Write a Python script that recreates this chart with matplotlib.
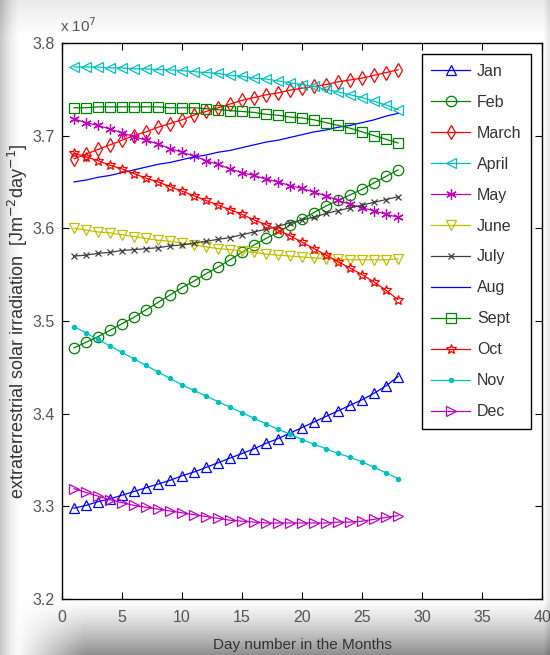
import numpy as np
import matplotlib
matplotlib.use('Agg')
import matplotlib.pyplot as plt

# values, in units of 1e7 J m^-2 day^-1, days 1..28
days = list(range(1, 29))

jan = [3.298, 3.301, 3.305, 3.308, 3.312, 3.316, 3.320, 3.324, 3.328, 3.333,
       3.337, 3.342, 3.347, 3.352, 3.357, 3.362, 3.368, 3.373, 3.379, 3.385,
       3.391, 3.397, 3.403, 3.409, 3.415, 3.422, 3.430, 3.440]
feb = [3.471, 3.477, 3.483, 3.490, 3.497, 3.504, 3.512, 3.520, 3.528, 3.536,
       3.543, 3.551, 3.558, 3.566, 3.574, 3.582, 3.589, 3.596, 3.603, 3.610,
       3.617, 3.624, 3.630, 3.636, 3.642, 3.649, 3.656, 3.663]
march = [3.675, 3.680, 3.685, 3.690, 3.695, 3.700, 3.704, 3.709, 3.713, 3.717,
         3.722, 3.726, 3.730, 3.734, 3.738, 3.741, 3.744, 3.746, 3.749, 3.751,
         3.753, 3.755, 3.758, 3.760, 3.762, 3.765, 3.768, 3.771]
april = [3.774, 3.774, 3.774, 3.773, 3.773, 3.772, 3.772, 3.771, 3.771, 3.770,
         3.769, 3.768, 3.767, 3.765, 3.764, 3.762, 3.761, 3.759, 3.757, 3.755,
         3.753, 3.750, 3.747, 3.744, 3.741, 3.737, 3.733, 3.728]
may = [3.718, 3.714, 3.711, 3.707, 3.703, 3.699, 3.695, 3.691, 3.686, 3.682,
       3.678, 3.673, 3.669, 3.664, 3.660, 3.657, 3.653, 3.650, 3.646, 3.643,
       3.639, 3.635, 3.630, 3.626, 3.622, 3.619, 3.615, 3.612]
june = [3.600, 3.598, 3.596, 3.595, 3.593, 3.591, 3.589, 3.587, 3.586, 3.584,
        3.582, 3.580, 3.578, 3.577, 3.575, 3.574, 3.572, 3.571, 3.570, 3.569,
        3.568, 3.567, 3.567, 3.566, 3.566, 3.566, 3.566, 3.567]
july = [3.570, 3.571, 3.573, 3.574, 3.576, 3.577, 3.578, 3.579, 3.581, 3.582,
        3.584, 3.586, 3.588, 3.590, 3.593, 3.596, 3.599, 3.602, 3.606, 3.609,
        3.612, 3.616, 3.619, 3.622, 3.625, 3.628, 3.631, 3.634]
aug = [3.650, 3.652, 3.655, 3.657, 3.660, 3.663, 3.666, 3.669, 3.671, 3.674,
       3.677, 3.679, 3.682, 3.684, 3.687, 3.690, 3.693, 3.695, 3.698, 3.701,
       3.704, 3.706, 3.709, 3.711, 3.714, 3.717, 3.721, 3.724]
sept = [3.730, 3.730, 3.731, 3.731, 3.731, 3.731, 3.731, 3.731, 3.730, 3.730,
        3.730, 3.729, 3.728, 3.727, 3.726, 3.725, 3.723, 3.722, 3.720, 3.719,
        3.717, 3.714, 3.711, 3.708, 3.704, 3.700, 3.696, 3.692]
oct_ = [3.681, 3.677, 3.673, 3.668, 3.664, 3.659, 3.654, 3.650, 3.645, 3.640,
        3.635, 3.630, 3.625, 3.620, 3.615, 3.609, 3.604, 3.598, 3.592, 3.585,
        3.578, 3.571, 3.564, 3.557, 3.550, 3.542, 3.533, 3.523]
nov = [3.494, 3.487, 3.480, 3.473, 3.466, 3.459, 3.452, 3.445, 3.438, 3.431,
       3.425, 3.419, 3.413, 3.407, 3.401, 3.395, 3.389, 3.383, 3.378, 3.372,
       3.367, 3.362, 3.357, 3.353, 3.348, 3.342, 3.336, 3.330]
dec = [3.319, 3.315, 3.311, 3.307, 3.304, 3.301, 3.299, 3.297, 3.295, 3.293,
       3.291, 3.289, 3.287, 3.285, 3.284, 3.283, 3.282, 3.282, 3.282, 3.282,
       3.282, 3.282, 3.283, 3.283, 3.284, 3.286, 3.288, 3.290]

labels = ['Jan', 'Feb', 'March', 'April', 'May', 'June', 'July', 'Aug',
          'Sept', 'Oct', 'Nov', 'Dec']
series = [jan, feb, march, april, may, june, july, aug, sept, oct_, nov, dec]

# matlab-ish look
blue = (0, 0, 1)
green = (0, 0.5, 0)
red = (1, 0, 0)
cyan = (0, 0.75, 0.75)
mag = (0.75, 0, 0.75)
yel = (0.75, 0.75, 0)
gray = (0.25, 0.25, 0.25)
colors = [blue, green, red, cyan, mag, yel, gray, blue, green, red, cyan, mag]
markers = ['^', 'o', 'd', '<', (6, 2, 0), 'v', 'x', None, 's', '*', '.', '>']

fnt = ['Liberation Sans', 'DejaVu Sans']
txtcol = '#333333'

fig = plt.figure(figsize=(5.5, 6.55), dpi=100)

# soft drop shadow behind the plot
bg = fig.add_axes([0, 0, 1, 1], zorder=-5)
h, w = 655, 550
yy, xx = np.mgrid[0:h, 0:w]
shade = np.zeros((h, w))
shade += 0.45 * np.clip((yy - 598) / 57.0, 0, 1) ** 1.3 * np.clip((xx - 15) / 70.0, 0, 1)
shade += 0.22 * np.clip((20 - xx) / 20.0, 0, 1) ** 1.5
shade += 0.08 * np.clip((35 - yy) / 35.0, 0, 1)
shade += 0.10 * np.clip((xx - 543) / 7.0, 0, 1)
shade = np.clip(shade, 0, 0.6)
img = np.dstack([1 - shade] * 3)
bg.imshow(img, aspect='auto', extent=[0, 1, 0, 1])
bg.axis('off')

ax = fig.add_axes([0.1127, 0.0855, 0.873, 0.849])
for lab, vals, c, m in zip(labels, series, colors, markers):
    kw = dict(color=c, lw=0.9, label=lab)
    if m is not None:
        kw.update(marker=m, ms=7.5, markeredgewidth=0.9)
        if m in ['^', 'o', 'd', '<', 'v', 's', '*', '>']:
            kw['markerfacecolor'] = 'none'
        if m == 'x':
            kw['ms'] = 5
        if m == '.':
            kw['ms'] = 6
    ax.plot(days, vals, **kw)

ax.set_xlim(0, 40)
ax.set_ylim(3.2, 3.8)
ax.set_xticks(range(0, 41, 5))
ax.set_yticks([3.2, 3.3, 3.4, 3.5, 3.6, 3.7, 3.8])
ax.set_yticklabels(['3.2', '3.3', '3.4', '3.5', '3.6', '3.7', '3.8'])
ax.tick_params(direction='in', top=True, right=True, length=5, width=0.8,
               labelsize=11.5, labelcolor='#555555')
ax.tick_params(axis='x', pad=8)
ax.tick_params(axis='y', pad=5)
for t in ax.get_xticklabels() + ax.get_yticklabels():
    t.set_family(fnt)
for s in ax.spines.values():
    s.set_linewidth(1.0)

ax.text(-0.2, 3.8 + 0.009, 'x 10$^{7}$', fontsize=11, color='#555555',
        family=fnt, ha='left', va='bottom')

ax.set_xlabel('Day number in the Months', fontsize=11, color=txtcol,
              family=fnt, labelpad=9)
ax.set_ylabel('extraterrestrial solar irradiation  [Jm$^{-2}$day$^{-1}$]',
              fontsize=13, color=txtcol, family=fnt, labelpad=2)

leg = ax.legend(loc='upper right', numpoints=1,
                prop={'family': fnt, 'size': 11.5},
                handlelength=2.4, handletextpad=0.45, labelspacing=1.0,
                borderaxespad=0.7, borderpad=0.6, fancybox=False,
                edgecolor='black', framealpha=1)
leg.get_frame().set_linewidth(1.0)
for t in leg.get_texts():
    t.set_color(txtcol)

fig.savefig('out.png', dpi=100)
